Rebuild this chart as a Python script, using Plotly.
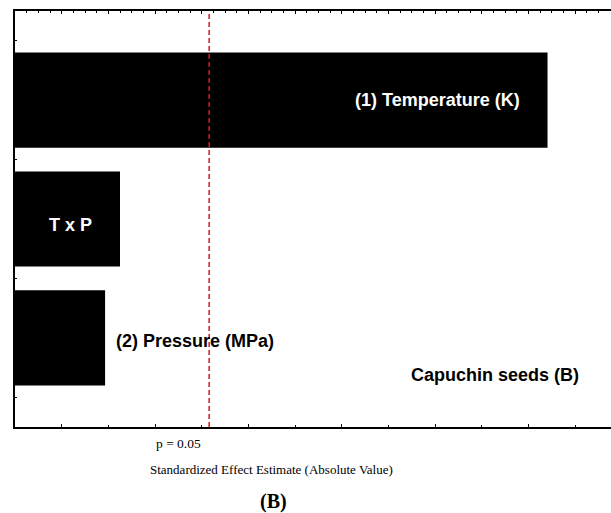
import plotly.graph_objects as go

# Data (standardized effect estimates, absolute value)
categories = ["(2) Pressure (MPa)", "T x P", "(1) Temperature (K)"]
effects = [1.93, 2.25, 11.41]
p_line = 4.16
p_label = "p = 0.05"
x_title = "Standardized Effect Estimate (Absolute Value)"
panel_label = "(B)"
series_label = "Capuchin seeds (B)"

SANS = "Liberation Sans, Arial, sans-serif"
SERIF = "Liberation Serif, Times New Roman, serif"

fig = go.Figure()
fig.add_trace(go.Bar(
    y=categories, x=effects, orientation="h",
    marker=dict(color="black", line=dict(width=0)),
    width=0.8, showlegend=False, hoverinfo="skip",
))

# invisible trace on the top axis so that it carries its own tick pattern
fig.add_trace(go.Scatter(x=[0.0], y=[categories[0]], xaxis="x2", yaxis="y", mode="markers",
                         marker=dict(opacity=0), showlegend=False, hoverinfo="skip"))

xr = [0, 12.77]
fig.update_layout(
    width=611, height=513,
    margin=dict(l=15, r=0, t=11, b=86),
    paper_bgcolor="white", plot_bgcolor="white",
    xaxis=dict(range=xr, showgrid=False, zeroline=False, showline=True,
               linecolor="black", linewidth=2, ticks="inside", tick0=1, dtick=2,
               ticklen=3, tickcolor="black", tickwidth=1, showticklabels=False,
               minor=dict(ticks="inside", dtick=1, tick0=0, ticklen=2,
                          tickcolor="black", tickwidth=1)),
    xaxis2=dict(range=xr, overlaying="x", side="top", anchor="y", showgrid=False,
                zeroline=False, showline=True, linecolor="black", linewidth=2,
                ticks="inside", dtick=1, tick0=0, ticklen=3, tickcolor="black",
                tickwidth=1, showticklabels=False,
                minor=dict(ticks="inside", dtick=0.25, tick0=0, ticklen=2,
                           tickcolor="black", tickwidth=1, showgrid=False)),
    yaxis=dict(type="category", categoryorder="array", categoryarray=categories,
               range=[-0.75, 2.75], showgrid=False, zeroline=False, showline=True,
               linecolor="black", linewidth=2, ticks="inside", tickson="boundaries",
               ticklen=2, tickcolor="black", tickwidth=1, showticklabels=False),
    bargap=0.2,
)

fig.add_shape(type="line", xref="x", yref="paper", x0=p_line, x1=p_line, y0=0, y1=1,
              line=dict(color="#e8101a", width=1.5, dash="5px,3px"))

ann = []
ann.append(dict(x=9.06, y=2, xref="x", yref="y", text="<b>" + categories[2] + "</b>",
                showarrow=False, font=dict(family=SANS, size=18, color="white")))
ann.append(dict(x=1.18, y=1, xref="x", yref="y", text="<b>" + categories[1] + "</b>",
                showarrow=False, yshift=-6, font=dict(family=SANS, size=18, color="white")))
ann.append(dict(x=effects[0], y=0, xref="x", yref="y", text="<b>" + categories[0] + "</b>",
                showarrow=False, xanchor="left", xshift=9, yshift=-3,
                font=dict(family=SANS, size=18, color="black")))
ann.append(dict(x=10.29, y=-0.283, xref="x", yref="y", text="<b>" + series_label + "</b>",
                showarrow=False, yshift=-4, font=dict(family=SANS, size=18, color="black")))
ann.append(dict(x=p_line, y=-0.04, xref="x", yref="paper", text=p_label,
                showarrow=False, xanchor="right", xshift=-6, yanchor="middle",
                font=dict(family=SERIF, size=13.5, color="black")))
ann.append(dict(x=0.431, y=-0.101, xref="paper", yref="paper", text=x_title,
                showarrow=False, yanchor="middle",
                font=dict(family=SERIF, size=13, color="black")))
ann.append(dict(x=0.434, y=-0.18, xref="paper", yref="paper", text="<b>" + panel_label + "</b>",
                showarrow=False, yanchor="middle",
                font=dict(family=SERIF, size=20, color="black")))
fig.update_layout(annotations=ann)

fig.write_html("out.html")
